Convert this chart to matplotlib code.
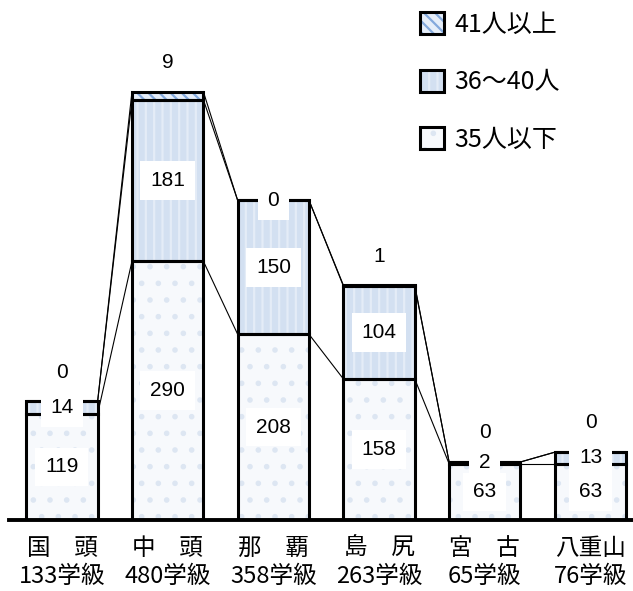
import matplotlib.pyplot as plt
import numpy as np
from matplotlib.patches import Patch

regions = ["国　頭", "中　頭", "那　覇", "島　尻", "宮　古", "八重山"]
classes = [133, 480, 358, 263, 65, 76]
le35 = [119, 290, 208, 158, 63, 63]
r36_40 = [14, 181, 150, 104, 2, 13]
ge41 = [0, 9, 0, 1, 0, 0]
series_names = ["35人以下", "36～40人", "41人以上"]

# fill, hatch, hatch colour per series (bottom -> top)
styles = [
    ("#f7f9fc", ".", "#dde6f2"),
    ("#d3e0f1", "||", "#e4ecf7"),
    ("#e6eef9", "\\\\\\", "#84a9dc"),
]
# 那覇's zero label sits on the bar top, the other top labels float above
top_label_inline = [False, False, True, False, False, False]

cjk = ["Noto Sans CJK JP", "DejaVu Sans"]
num_font = "Liberation Sans"
plt.rcParams["hatch.linewidth"] = 1.6

fig = plt.figure(figsize=(6.33, 5.91), dpi=100)
ax = fig.add_axes([9 / 633, 71 / 591, 624 / 633, 520 / 591])

x = np.arange(len(regions))
width = 0.675
label_box = dict(facecolor="white", edgecolor="none", pad=7)
bottoms = np.zeros(len(x))
levels = []
for k, (vals, (face, hatch, hcolor)) in enumerate(zip([le35, r36_40, ge41], styles)):
    vals = np.array(vals)
    ax.bar(x, vals, width, bottom=bottoms, color=face, edgecolor=hcolor,
           hatch=hatch, linewidth=0, zorder=2)
    ax.bar(x, vals, width, bottom=bottoms, fill=False, edgecolor="black",
           linewidth=2.2, zorder=3)
    if k < 2:
        for xi, b, v in zip(x, bottoms, vals):
            ax.text(xi, b + v / 2, str(v), ha="center", va="center",
                    fontsize=15, family=num_font, zorder=5, bbox=label_box)
    bottoms = bottoms + vals
    levels.append(bottoms.copy())

# top series labels
for xi, v, top, inline in zip(x, ge41, levels[-1], top_label_inline):
    offset = 0 if inline else 21
    ax.annotate(str(v), (xi, top), xytext=(0, offset), textcoords="offset points",
                ha="center", va="center", fontsize=15, family=num_font, zorder=5,
                bbox=label_box)

# series lines joining the bars
for level in levels:
    for i in range(len(x) - 1):
        ax.plot([x[i] + width / 2, x[i + 1] - width / 2], [level[i], level[i + 1]],
                color="black", linewidth=0.8, zorder=2.5)

ax.set_xlim(-0.501, 5.402)
ax.set_ylim(0, 582.6)
for side in ["top", "right", "left"]:
    ax.spines[side].set_visible(False)
ax.spines["bottom"].set_linewidth(2.8)
ax.set_yticks([])
ax.set_xticks(x, labels=[f"{r}\n{c}学級" for r, c in zip(regions, classes)])
ax.tick_params(axis="x", length=0, pad=12)
for lab in ax.get_xticklabels():
    lab.set_fontsize(17)
    lab.set_family(cjk)
    lab.set_linespacing(1.28)

handles = []
for face, hatch, hcolor in styles:
    fill = Patch(facecolor=face, edgecolor=hcolor, hatch=hatch, linewidth=0)
    edge = Patch(fill=False, edgecolor="black", linewidth=2.2)
    handles.append((fill, edge))
ax.legend(handles[::-1], series_names[::-1], loc="upper left",
          bbox_to_anchor=(420 / 633, 1 - 12 / 591), bbox_transform=fig.transFigure,
          frameon=False, borderpad=0, borderaxespad=0, handlelength=0.97,
          handleheight=0.97, handletextpad=0.4, labelspacing=1.25,
          prop={"family": cjk, "size": 18})

fig.savefig("out.png", dpi=100)
